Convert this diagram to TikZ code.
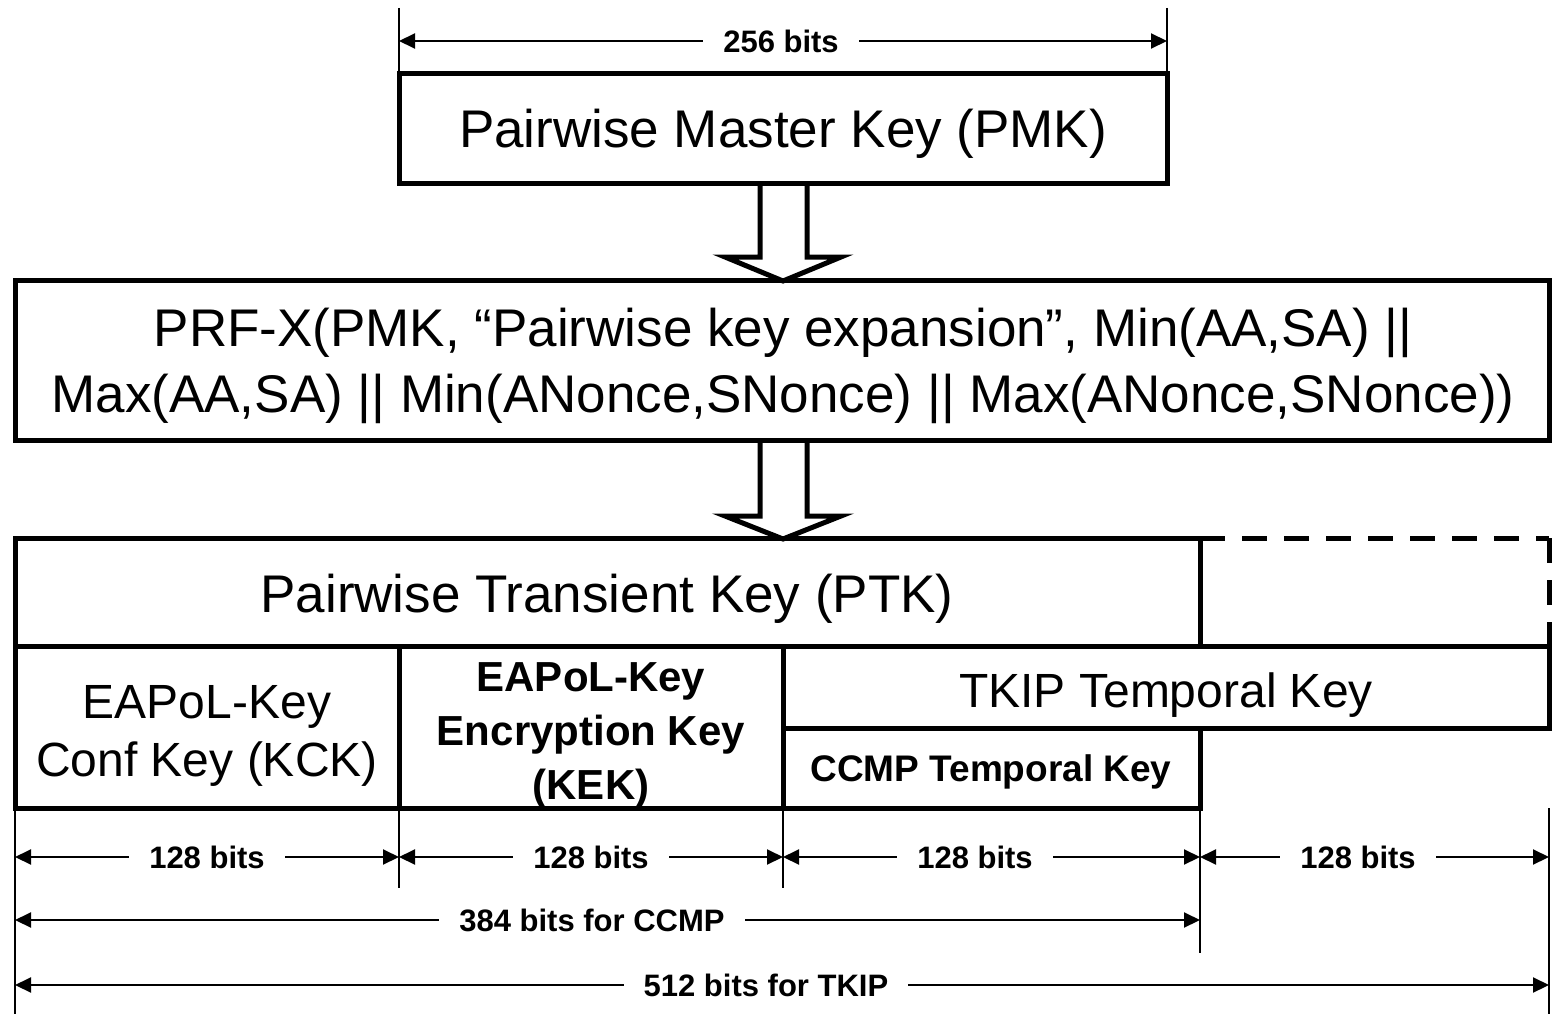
\documentclass[tikz,border=0pt]{standalone}
\usepackage{fontspec}
\setmainfont{Liberation Sans}
\usetikzlibrary{arrows.meta}
\begin{document}
\begin{tikzpicture}[x=1pt,y=-1pt,
  box/.style={draw,line width=5pt,rectangle,anchor=north west,inner sep=0pt,outer sep=0pt},
  bigtxt/.style={font=\fontsize{53}{66}\selectfont,align=center},
  midtxt/.style={font=\fontsize{48}{58}\selectfont,align=center},
  boldtxt/.style={font=\bfseries\fontsize{42}{54}\selectfont,align=center},
  ccmptxt/.style={font=\bfseries\fontsize{37}{44}\selectfont},
  dimlabel/.style={fill=white,inner xsep=20pt,inner ysep=2pt,font=\bfseries\fontsize{31}{36}\selectfont},
  dimline/.style={line width=2pt,{Triangle[length=16pt,width=15pt]}-{Triangle[length=16pt,width=15pt]}},
  extline/.style={line width=2pt},
  blockarrow/.style={line width=5pt,line join=miter,fill=white},
  dashbox/.style={line width=5pt,dash pattern=on 25pt off 17pt}]
\useasboundingbox (0,0) rectangle (1552,1014);

% block arrows (drawn first so box borders stay on top)
\draw[blockarrow] (760,183) -- (760,257) -- (725,257) -- (783,281) -- (841,257) -- (807,257) -- (807,183);
\draw[blockarrow] (760,440) -- (760,516) -- (725,516) -- (783,539) -- (841,516) -- (807,516) -- (807,440);

% boxes
\node[box,minimum width=768pt,minimum height=109pt] (pmk) at (399,74) {};
\node[box,minimum width=1534pt,minimum height=160pt] (prf) at (15,280) {};
\node[box,minimum width=1185pt,minimum height=108pt] (ptk) at (15,538) {};
\node[box,minimum width=384pt,minimum height=162pt] (kck) at (15,646) {};
\node[box,minimum width=384pt,minimum height=162pt] (kek) at (399,646) {};
\node[box,minimum width=766pt,minimum height=82pt] (tkip) at (783,646) {};
\node[box,minimum width=417pt,minimum height=80pt] (ccmp) at (783,728) {};

% dashed extension of PTK
\coordinate (d1) at (1200,538);
\coordinate (d2) at (1549,538);
\coordinate (d3) at (1549,646);
\draw[dashbox] (d1) -- (d2);
\draw[dashbox] (d2) -- (d3);

% texts
\node[bigtxt] (tpmk) at (783,134) {Pairwise Master Key (PMK)};
\node[bigtxt] (tprf) at (783,366) {PRF-X(PMK, “Pairwise key expansion”, Min(AA,SA) ||\\Max(AA,SA) || Min(ANonce,SNonce) || Max(ANonce,SNonce))};
\node[bigtxt] (tptk) at (607,599) {Pairwise Transient Key (PTK)};
\node[midtxt] (tkck) at (207,736) {EAPoL-Key\\Conf Key (KCK)};
\node[boldtxt] (tkek) at (591,735) {EAPoL-Key\\Encryption Key\\(KEK)};
\node[midtxt] (ttkip) at (1166,695) {TKIP Temporal Key};
\node[ccmptxt] (tccmp) at (991,772) {CCMP Temporal Key};

% top dimension
\coordinate (t1) at (399,8);
\coordinate (t2) at (1167,8);
\coordinate (a1) at (399,41);
\coordinate (a2) at (1167,41);
\draw[extline] (t1) -- (pmk.north west);
\draw[extline] (t2) -- (pmk.north east);
\draw[dimline] (a1) -- (a2);
\node[dimlabel] (l256) at (781,41) {256 bits};

% bottom extension lines
\coordinate (e0) at (15,1014);
\coordinate (e1) at (399,888);
\coordinate (e2) at (783,888);
\coordinate (e3) at (1200,953);
\coordinate (e4top) at (1549,808);
\coordinate (e4) at (1549,1014);
\draw[extline] (kck.south west) -- (e0);
\draw[extline] (kek.south west) -- (e1);
\draw[extline] (kek.south east) -- (e2);
\draw[extline] (ccmp.south east) -- (e3);
\draw[extline] (e4top) -- (e4);

% 128-bit dimensions
\coordinate (p0) at (15,857);
\coordinate (p1) at (399,857);
\coordinate (p2) at (783,857);
\coordinate (p3) at (1200,857);
\coordinate (p4) at (1549,857);
\draw[dimline] (p0) -- (p1);
\draw[dimline] (p1) -- (p2);
\draw[dimline] (p2) -- (p3);
\draw[dimline] (p3) -- (p4);
\node[dimlabel] (l1) at (207,857) {128 bits};
\node[dimlabel] (l2) at (591,857) {128 bits};
\node[dimlabel] (l3) at (975,857) {128 bits};
\node[dimlabel] (l4) at (1358,857) {128 bits};

% 384 bits
\coordinate (q0) at (15,920);
\coordinate (q1) at (1200,920);
\draw[dimline] (q0) -- (q1);
\node[dimlabel] (l384) at (592,920) {384 bits for CCMP};

% 512 bits
\coordinate (r0) at (15,985);
\coordinate (r1) at (1549,985);
\draw[dimline] (r0) -- (r1);
\node[dimlabel] (l512) at (766,985) {512 bits for TKIP};
\end{tikzpicture}
\end{document}
